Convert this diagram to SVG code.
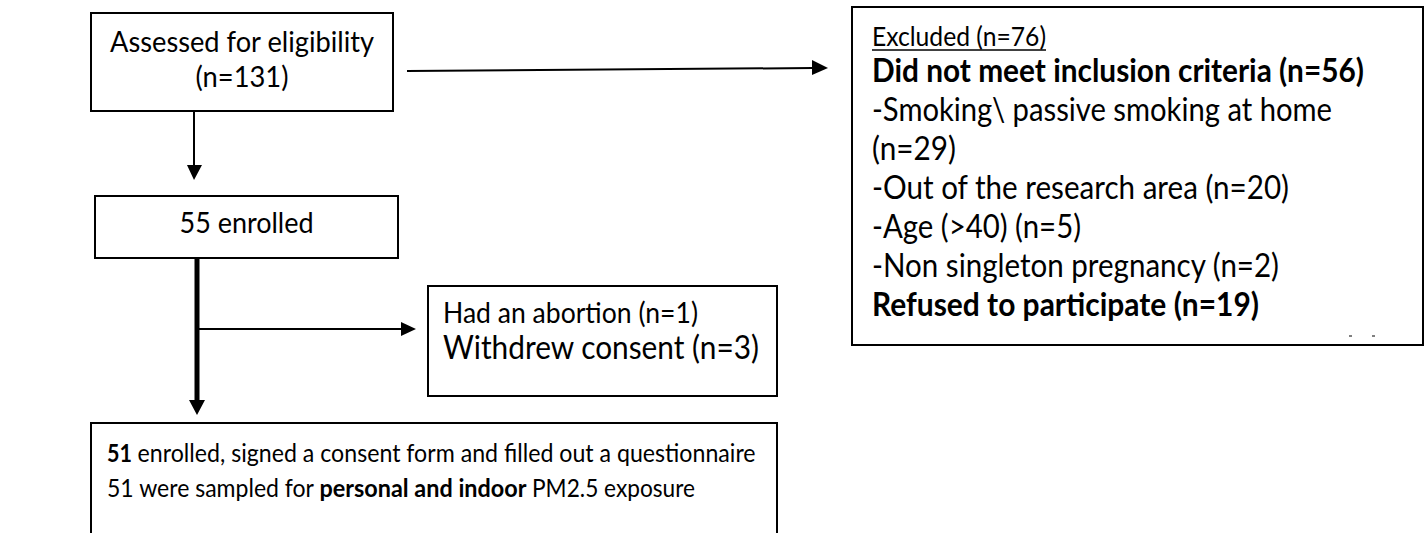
<svg xmlns="http://www.w3.org/2000/svg" width="1425" height="533" viewBox="0 0 1425 533">
<style>
.box{fill:#fff;stroke:#000;stroke-width:2}
.t{font-family:Lato,"Liberation Sans",sans-serif;fill:#000}
.b{font-weight:bold}
.ln{stroke:#000;stroke-width:2;fill:none}
.ah{fill:#000}
</style>
<rect width="1425" height="533" fill="#fff"/>
<g id="connectors">
  <line class="ln" x1="407" y1="71" x2="813" y2="68"/>
  <polygon class="ah" points="812,60 828,68 812,75"/>
  <line class="ln" x1="194" y1="111" x2="194" y2="166"/>
  <polygon class="ah" points="187,165 202,165 194,180"/>
  <line class="ln" x1="197" y1="258" x2="197" y2="402" style="stroke-width:5"/>
  <polygon class="ah" points="189,400 205,400 197,415"/>
  <line class="ln" x1="199" y1="329" x2="402" y2="329"/>
  <polygon class="ah" points="401,322 416,329 401,336"/>
</g>
<g id="assessed">
  <rect class="box" x="91" y="13" width="302" height="98"/>
  <text class="t" x="242" y="52" font-size="29.5" text-anchor="middle" textLength="264" lengthAdjust="spacingAndGlyphs">Assessed for eligibility</text>
  <text class="t" x="242" y="87" font-size="29.5" text-anchor="middle" textLength="93" lengthAdjust="spacingAndGlyphs">(n=131)</text>
</g>
<g id="enrolled55">
  <rect class="box" x="95" y="196" width="303" height="62"/>
  <text class="t" x="246.5" y="233" font-size="29" text-anchor="middle" textLength="134" lengthAdjust="spacingAndGlyphs">55 enrolled</text>
</g>
<g id="lost">
  <rect class="box" x="428" y="286" width="349" height="110"/>
  <text class="t" x="443" y="323" font-size="28.5" textLength="255" lengthAdjust="spacingAndGlyphs">Had an abortion (n=1)</text>
  <text class="t" x="443" y="359" font-size="32" textLength="316" lengthAdjust="spacingAndGlyphs">Withdrew consent (n=3)</text>
</g>
<g id="enrolled51">
  <path class="box" d="M91,540 V423 H777 V540"/>
  <text class="t b" x="107" y="462" font-size="24.7" textLength="25" lengthAdjust="spacingAndGlyphs">51</text>
  <text class="t" x="137.6" y="462" font-size="24.7" textLength="618" lengthAdjust="spacingAndGlyphs">enrolled, signed a consent form and filled out a questionnaire</text>
  <text class="t" x="107" y="497" font-size="24.7" textLength="207" lengthAdjust="spacingAndGlyphs">51 were sampled for</text>
  <text class="t b" x="319.5" y="497" font-size="24.7" textLength="207" lengthAdjust="spacingAndGlyphs">personal and indoor</text>
  <text class="t" x="532" y="497" font-size="24.7" textLength="163" lengthAdjust="spacingAndGlyphs">PM2.5 exposure</text>
</g>
<g id="excluded">
  <rect class="box" x="852" y="7" width="571" height="338"/>
  <text class="t" x="872" y="46" font-size="26.7" textLength="174" lengthAdjust="spacingAndGlyphs">Excluded (n=76)</text>
  <line x1="872" y1="50" x2="1046" y2="50" stroke="#000" stroke-width="1.5"/>
  <text class="t b" x="872" y="82" font-size="32" textLength="492" lengthAdjust="spacingAndGlyphs">Did not meet inclusion criteria (n=56)</text>
  <text class="t" x="872" y="121" font-size="32" textLength="460" lengthAdjust="spacingAndGlyphs">-Smoking\ passive smoking at home</text>
  <text class="t" x="872" y="160" font-size="32" textLength="84" lengthAdjust="spacingAndGlyphs">(n=29)</text>
  <text class="t" x="872" y="199" font-size="32" textLength="417" lengthAdjust="spacingAndGlyphs">-Out of the research area (n=20)</text>
  <text class="t" x="872" y="238" font-size="32" textLength="209" lengthAdjust="spacingAndGlyphs">-Age (&gt;40) (n=5)</text>
  <text class="t" x="872" y="277" font-size="32" textLength="407" lengthAdjust="spacingAndGlyphs">-Non singleton pregnancy (n=2)</text>
  <text class="t b" x="872" y="316" font-size="32" textLength="387" lengthAdjust="spacingAndGlyphs">Refused to participate (n=19)</text>
  <line x1="1349" y1="336" x2="1352" y2="336" stroke="#000" stroke-width="1"/>
  <line x1="1372" y1="336" x2="1375" y2="336" stroke="#000" stroke-width="1"/>
</g>
</svg>
